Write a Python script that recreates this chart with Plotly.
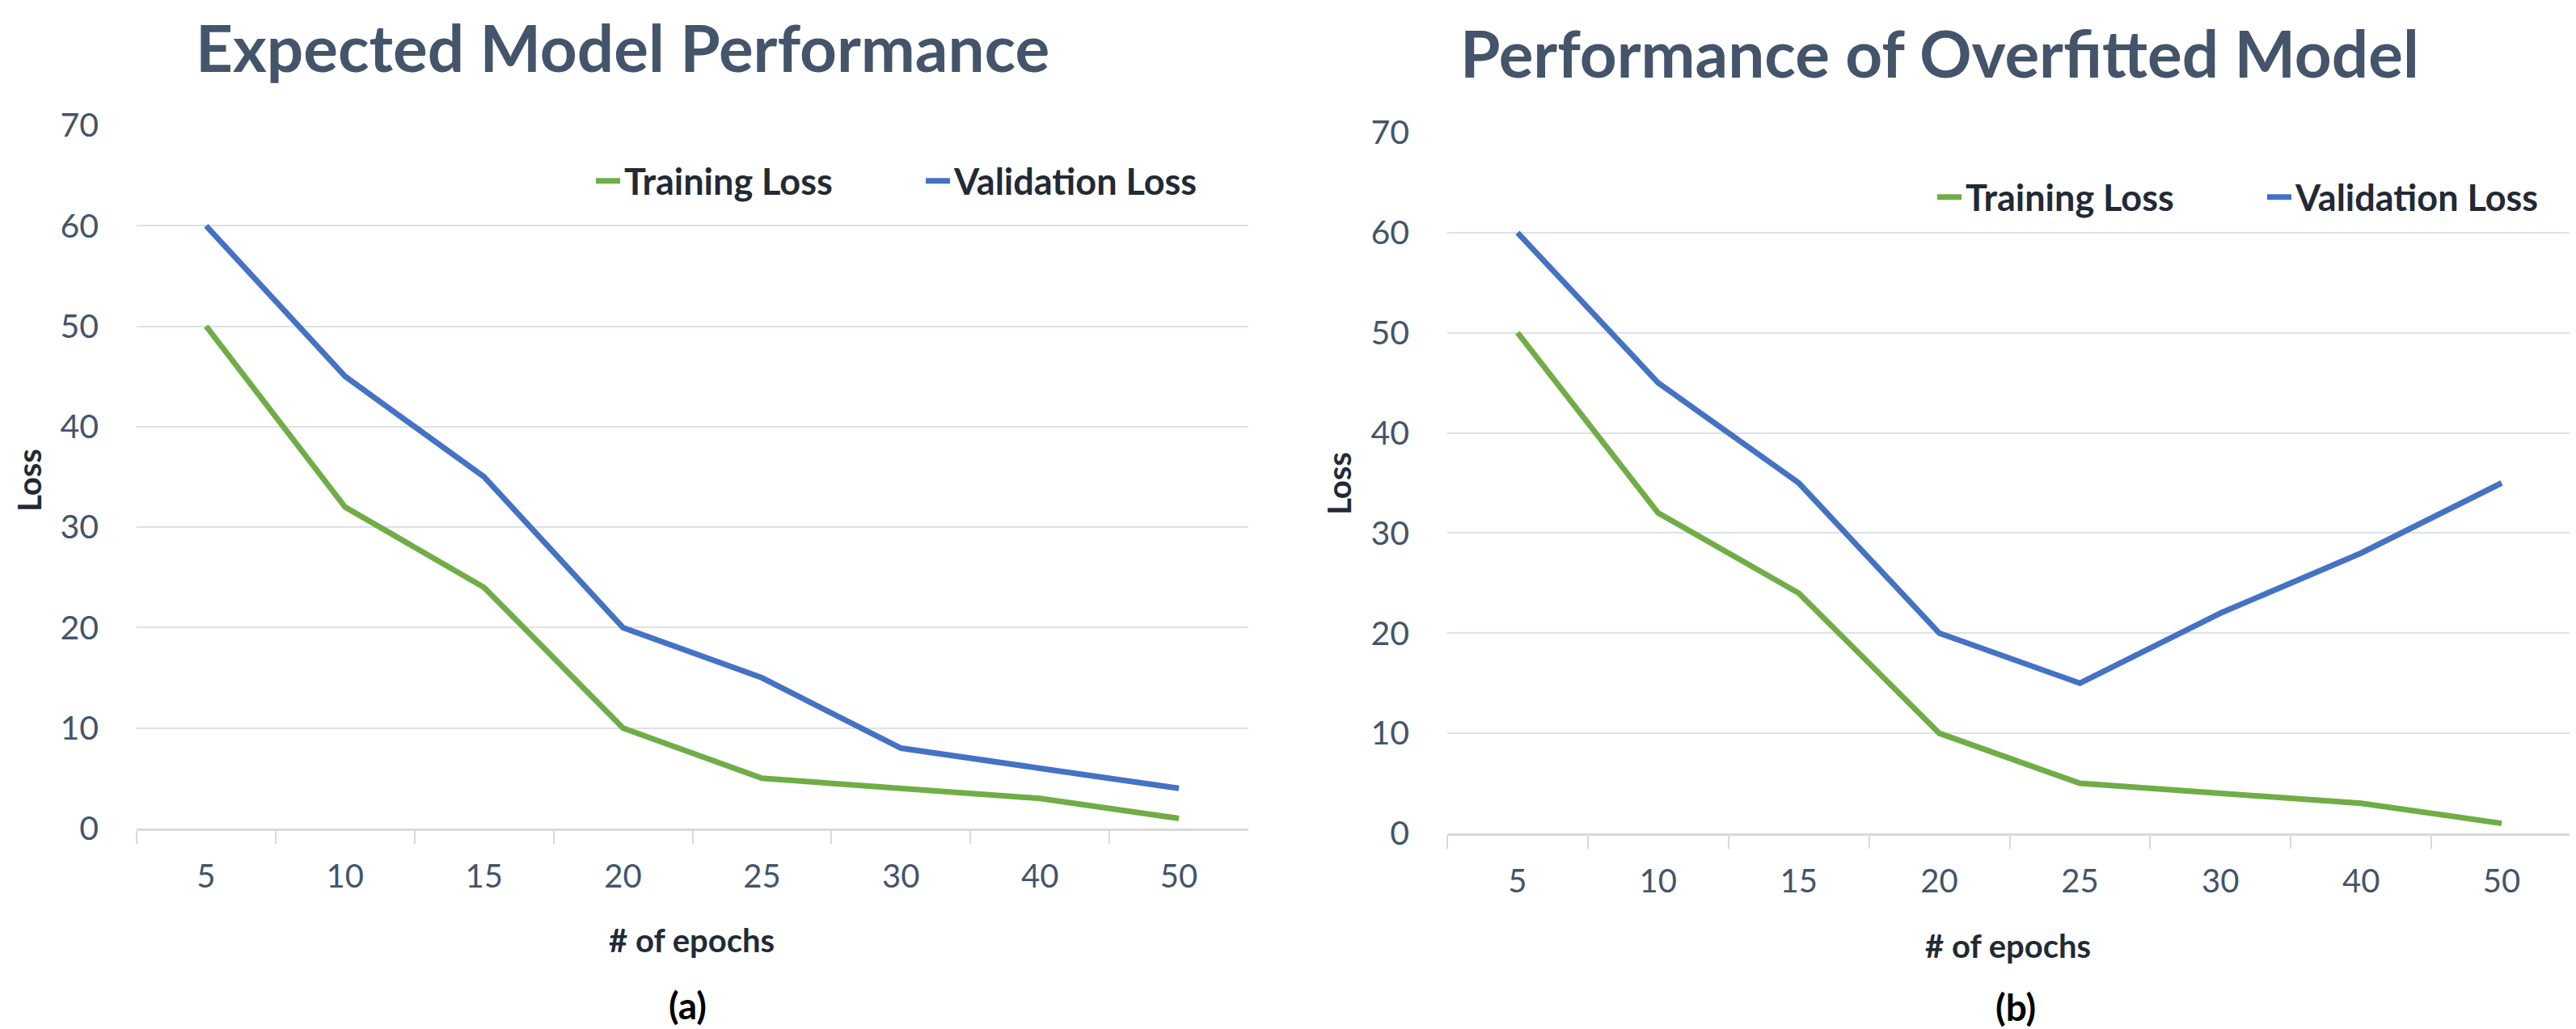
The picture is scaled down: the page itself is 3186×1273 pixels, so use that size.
import plotly.graph_objects as go

epochs = ["5", "10", "15", "20", "25", "30", "40", "50"]
train_a = [50, 32, 24, 10, 5, 4, 3, 1]
valid_a = [60, 45, 35, 20, 15, 8, 6, 4]
train_b = [50, 32, 24, 10, 5, 4, 3, 1]
valid_b = [60, 45, 35, 20, 15, 22, 28, 35]
y_ticks = [0, 10, 20, 30, 40, 50, 60, 70]

W, H = 3186, 1273
GREEN = "#70AD47"
BLUE = "#4472C4"
TITLE_C = "#44546A"
TICK_C = "#44546A"
DARK = "#222A35"
GRID = "#DDE1E8"
FONT = "Lato"

def px(x):
    return x / W

def py(y):
    return 1 - y / H

fig = go.Figure()
fig.add_trace(go.Scatter(x=epochs, y=train_a, mode="lines", name="Training Loss",
                         line=dict(color=GREEN, width=7), xaxis="x", yaxis="y", legend="legend"))
fig.add_trace(go.Scatter(x=epochs, y=valid_a, mode="lines", name="Validation Loss",
                         line=dict(color=BLUE, width=7), xaxis="x", yaxis="y", legend="legend"))
fig.add_trace(go.Scatter(x=epochs, y=train_b, mode="lines", name="Training Loss",
                         line=dict(color=GREEN, width=7), xaxis="x2", yaxis="y2", legend="legend2"))
fig.add_trace(go.Scatter(x=epochs, y=valid_b, mode="lines", name="Validation Loss",
                         line=dict(color=BLUE, width=7), xaxis="x2", yaxis="y2", legend="legend2"))

xcommon = dict(type="category", range=[-0.5, len(epochs) - 0.5], tickson="boundaries",
               ticks="outside", ticklen=16, automargin=False,
               tickwidth=2, tickcolor="#D9D9D9", showgrid=False, showline=True,
               linecolor="#D9D9D9", linewidth=3, zeroline=False,
               tickfont=dict(family=FONT, size=40, color=TICK_C), ticklabelstandoff=22)
ycommon = dict(range=[0, 70], tickvals=y_ticks, showgrid=True, gridcolor=GRID, gridwidth=2,
               zeroline=False, showline=False, ticks="", automargin=False,
               tickfont=dict(family=FONT, size=41, color=TICK_C), ticklabelstandoff=46)

legend_font = dict(family=FONT, size=45, color=DARK, weight="bold")

fig.update_layout(
    width=W, height=H, margin=dict(l=0, r=0, t=0, b=0, autoexpand=False),
    paper_bgcolor="white", plot_bgcolor="white",
    xaxis=dict(domain=[px(161), px(1536)], anchor="y", **xcommon),
    yaxis=dict(domain=[py(1017), py(147)], anchor="x", **ycommon),
    xaxis2=dict(domain=[px(1782), px(3173)], anchor="y2", **xcommon),
    yaxis2=dict(domain=[py(1023), py(156)], anchor="x2", **ycommon),
    legend=dict(orientation="h", x=px(724), y=py(216), xanchor="left", yanchor="middle",
                bgcolor="rgba(0,0,0,0)", font=legend_font,
                entrywidth=363, entrywidthmode="pixels"),
    legend2=dict(orientation="h", x=px(2383), y=py(236), xanchor="left", yanchor="middle",
                 bgcolor="rgba(0,0,0,0)", font=legend_font,
                 entrywidth=363, entrywidthmode="pixels"),
    showlegend=True,
)

# titles anchored at their top edge
fig.add_annotation(text="<b>Expected Model Performance</b>", x=px(762), y=py(0),
                   xref="paper", yref="paper", xanchor="center", yanchor="top",
                   showarrow=False, font=dict(family=FONT, size=80, color=TITLE_C))
fig.add_annotation(text="<b>Performance of Overfitted Model</b>", x=px(2391), y=py(7),
                   xref="paper", yref="paper", xanchor="center", yanchor="top",
                   showarrow=False, font=dict(family=FONT, size=80, color=TITLE_C))

annos = [
    ("<b>Loss</b>", 28, 586, 40, DARK, -90),
    ("<b>Loss</b>", 1648, 590, 40, DARK, -90),
    ("<b># of epochs</b>", 847, 1155, 40, DARK, 0),
    ("<b># of epochs</b>", 2475, 1162, 40, DARK, 0),
    ("<b>(a)</b>", 842, 1235, 46, "black", 0),
    ("<b>(b)</b>", 2485, 1237, 46, "black", 0),
]
for text, x, y, size, color, ang in annos:
    fig.add_annotation(text=text, x=px(x), y=py(y), xref="paper", yref="paper",
                       xanchor="center", yanchor="middle", showarrow=False, textangle=ang,
                       font=dict(family=FONT, size=size, color=color))

fig.write_html("out.html")
